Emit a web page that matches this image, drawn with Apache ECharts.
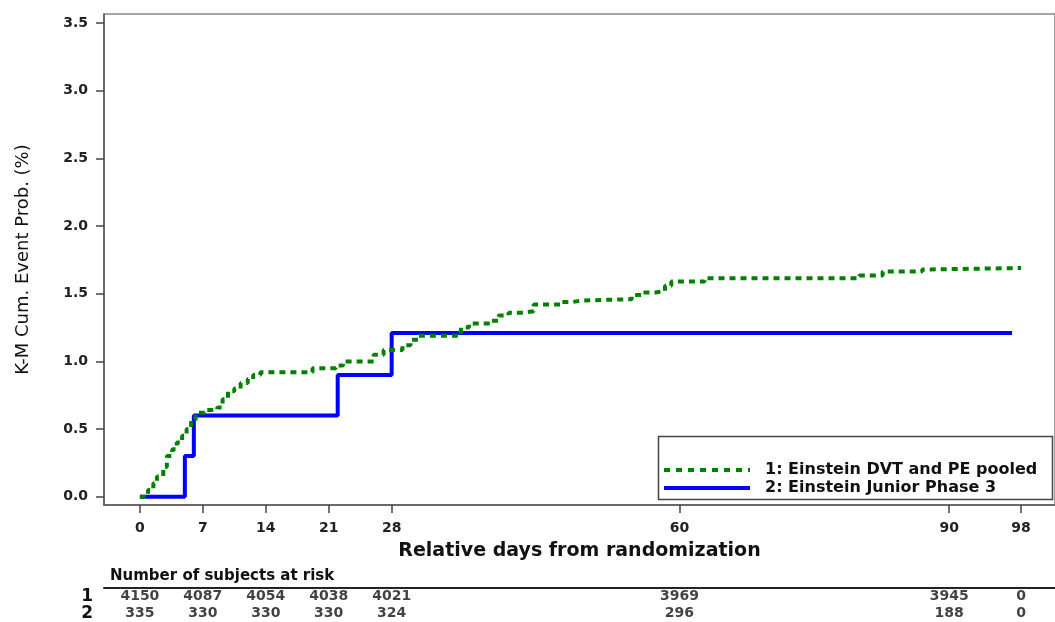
<!DOCTYPE html>
<html>
<head>
<meta charset="utf-8">
<script src="https://cdn.jsdelivr.net/npm/echarts@6/dist/echarts.min.js"></script>
<style>
html,body{margin:0;padding:0;background:#fff;}
#chart{width:1055px;height:622px;}
</style>
</head>
<body>
<div id="chart"></div>
<script>
// ---- data ----
const xTickDays = [0, 7, 14, 21, 28, 60, 90, 98];
const yTickValues = [0, 0.5, 1.0, 1.5, 2.0, 2.5, 3.0, 3.5];

const seriesNames = ['1: Einstein DVT and PE pooled', '2: Einstein Junior Phase 3'];

const pooledDays = [0, 0.9, 1.5, 1.9, 2.6, 3.0, 3.6, 4.1, 4.7, 5.2, 5.7, 6.2, 7.2, 8.6, 9.2, 9.8, 10.5, 11.2, 12.0, 12.6, 13.4,
  19.2, 21.8, 22.6, 26.0, 27.1, 29.2, 30.1, 31.0, 35.7, 36.6, 39.0, 39.9, 41.0, 42.4, 43.8, 46.9, 48.2, 49.1,
  54.7, 56.0, 57.3, 58.4, 59.1, 62.8, 80.0, 82.6, 87.0, 87.9, 98.0];
const pooledProb = [0, 0.05, 0.10, 0.15, 0.22, 0.30, 0.35, 0.40, 0.45, 0.50, 0.56, 0.62, 0.64, 0.66, 0.72, 0.78, 0.80, 0.84, 0.87, 0.90, 0.92,
  0.95, 0.97, 1.00, 1.05, 1.085, 1.12, 1.16, 1.19, 1.25, 1.28, 1.30, 1.34, 1.36, 1.37, 1.42, 1.44, 1.45, 1.46,
  1.49, 1.51, 1.52, 1.56, 1.59, 1.615, 1.635, 1.665, 1.68, 1.69, 1.69];

const juniorDays = [0, 5, 6, 22, 28, 97];
const juniorProb = [0, 0.30, 0.60, 0.90, 1.21, 1.21];

const atRiskDays = [0, 7, 14, 21, 28, 60, 90, 98];
const atRiskRows = ['1', '2'];
const atRisk1 = [4150, 4087, 4054, 4038, 4021, 3969, 3945, 0];
const atRisk2 = [335, 330, 330, 330, 324, 296, 188, 0];

// ---- build ----
const FONT = 'DejaVu Sans';
const xMin = -3.99, xMax = 101.77;
const yMin = -0.0614, yMax = 3.568;

const pooledData = pooledDays.map((d, i) => [d, pooledProb[i]]);
const juniorData = juniorDays.map((d, i) => [d, juniorProb[i]]);
const riskData = [];
atRiskDays.forEach((d, i) => { riskData.push([d, atRiskRows[0], atRisk1[i]]); });
atRiskDays.forEach((d, i) => { riskData.push([d, atRiskRows[1], atRisk2[i]]); });

const chart = echarts.init(document.getElementById('chart'), null, {renderer: 'canvas'});
chart.setOption({
  animation: false,
  backgroundColor: '#fff',
  grid: [
    {left: 104, right: -3, top: 14, bottom: 117, show: true, borderColor: '#888', borderWidth: 1.5, backgroundColor: 'transparent'},
    {left: 104, right: -3, top: 588, height: 42}
  ],
  xAxis: [
    {
      type: 'value', gridIndex: 0, min: xMin, max: xMax,
      name: 'Relative days from randomization', nameLocation: 'middle', nameGap: 37,
      nameTextStyle: {fontFamily: FONT, fontWeight: 'bold', fontSize: 19, color: '#111'},
      axisLine: {show: true, onZero: false, lineStyle: {color: '#555', width: 1.5}},
      axisTick: {show: true, length: 8, customValues: xTickDays, lineStyle: {color: '#444', width: 1.5}},
      axisLabel: {customValues: xTickDays, margin: 16, fontFamily: FONT, fontWeight: 'bold', fontSize: 14, color: '#222'},
      splitLine: {show: false}
    },
    {
      type: 'value', gridIndex: 1, min: xMin, max: xMax, position: 'top',
      axisLine: {show: true, onZero: false, lineStyle: {color: '#222', width: 2}},
      axisTick: {show: false}, axisLabel: {show: false}, splitLine: {show: false}
    }
  ],
  yAxis: [
    {
      type: 'value', gridIndex: 0, min: yMin, max: yMax,
      name: 'K-M Cum. Event Prob. (%)', nameLocation: 'middle', nameGap: 72,
      nameTextStyle: {fontFamily: FONT, fontSize: 18, color: '#111'},
      axisLine: {show: true, onZero: false, lineStyle: {color: '#555', width: 1.5}},
      axisTick: {show: true, length: 8, customValues: yTickValues, lineStyle: {color: '#444', width: 1.5}},
      axisLabel: {customValues: yTickValues, margin: 16, fontFamily: FONT, fontWeight: 'bold', fontSize: 14, color: '#222',
        formatter: v => v.toFixed(1)},
      splitLine: {show: false}
    },
    {
      type: 'category', gridIndex: 1, data: atRiskRows, inverse: true,
      axisLine: {show: false}, axisTick: {show: false}, splitLine: {show: false},
      axisLabel: {interval: 0, margin: 11, fontFamily: FONT, fontWeight: 'bold', fontSize: 17, color: '#111'}
    }
  ],
  legend: {
    orient: 'vertical', left: 662, top: 462, padding: 0,
    itemWidth: 86, itemHeight: 10, itemGap: 2,
    itemStyle: {opacity: 0},
    data: [
      {name: seriesNames[0], lineStyle: {color: '#008000', width: 4, type: [6, 6]}},
      {name: seriesNames[1], lineStyle: {color: '#0000ff', width: 4}}
    ],
    textStyle: {fontFamily: FONT, fontWeight: 'bold', fontSize: 16, color: '#111', padding: [0, 0, 0, 10]}
  },
  graphic: [
    {type: 'rect', left: 656, top: 434, shape: {width: 394, height: 63}, style: {fill: 'none', stroke: '#444', lineWidth: 1.5}, z: 1},
    {type: 'text', left: 110, top: 569, style: {text: 'Number of subjects at risk', font: 'bold 15px "DejaVu Sans"', fill: '#111'}}
  ],
  series: [
    {
      name: seriesNames[0], type: 'line', xAxisIndex: 0, yAxisIndex: 0, step: 'end',
      symbol: 'none', showSymbol: false, data: pooledData, z: 3,
      lineStyle: {color: '#008000', width: 4, type: [6, 5]},
      itemStyle: {color: '#008000'}
    },
    {
      name: seriesNames[1], type: 'line', xAxisIndex: 0, yAxisIndex: 0, step: 'end',
      symbol: 'none', showSymbol: false, data: juniorData, z: 2,
      lineStyle: {color: '#0000ff', width: 4},
      itemStyle: {color: '#0000ff'}
    },
    {
      type: 'scatter', xAxisIndex: 1, yAxisIndex: 1, data: riskData,
      symbolSize: 1, itemStyle: {color: 'rgba(0,0,0,0)'}, silent: true,
      label: {show: true, position: 'inside', formatter: p => String(p.value[2]),
        fontFamily: FONT, fontWeight: 'bold', fontSize: 14, color: '#111'}
    }
  ]
});
</script>
</body>
</html>
